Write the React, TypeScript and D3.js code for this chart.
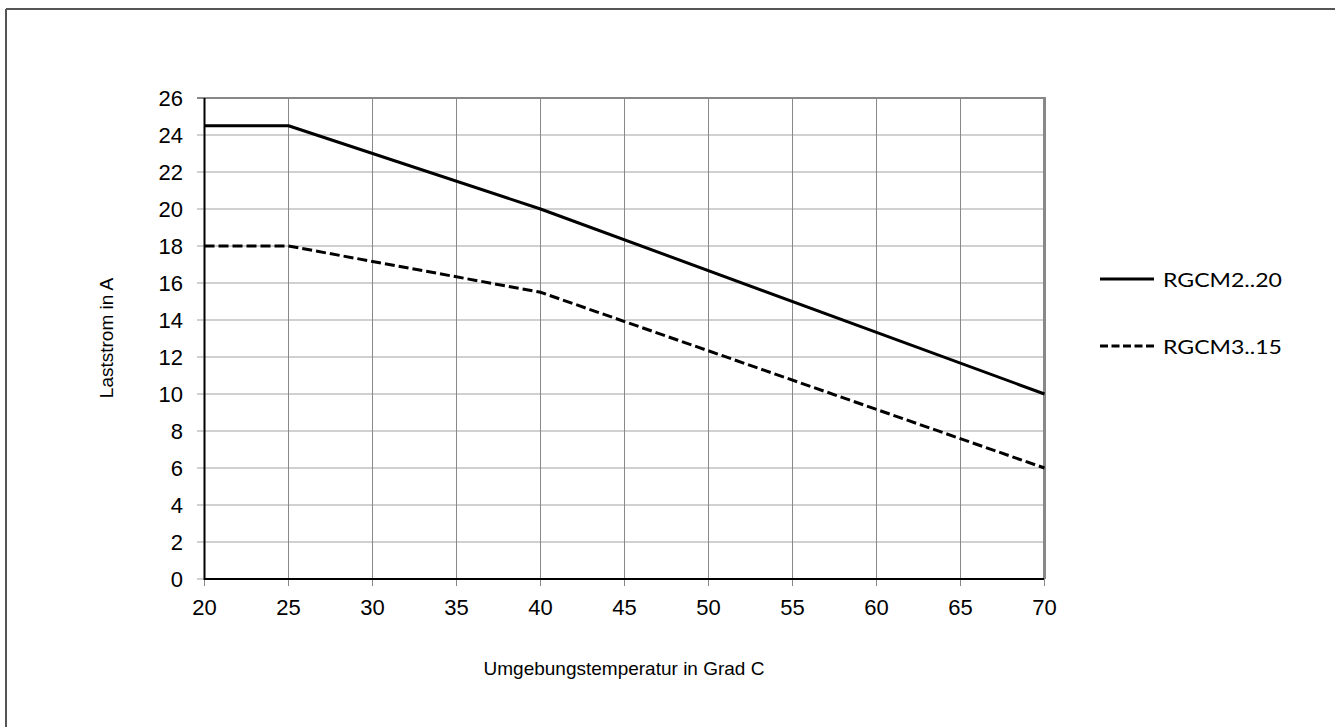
import React from "react";
import * as d3 from "d3";

const temps = [20, 25, 40, 70];
const seriesA = [24.5, 24.5, 20, 10];
const seriesB = [18, 18, 15.5, 6];
const seriesNames = ["RGCM2..20", "RGCM3..15"];
const xTicks = [20, 25, 30, 35, 40, 45, 50, 55, 60, 65, 70];
const yTicks = [0, 2, 4, 6, 8, 10, 12, 14, 16, 18, 20, 22, 24, 26];

export default function App() {
  const W = 1335, H = 727;
  const x = d3.scaleLinear().domain([20, 70]).range([204.5, 1044.5]);
  const y = d3.scaleLinear().domain([0, 26]).range([579, 98]);
  const line = d3.line<number>().x((_, i) => x(temps[i])).y((d) => y(d));
  const font = "'Liberation Sans', Arial, sans-serif";
  const legendFont = "Lato, 'Open Sans', sans-serif";
  return (
    <svg width={W} height={H} style={{ position: "absolute", left: 0, top: 0 }}>
      <rect width={W} height={H} fill="#fff" />
      <line x1={6} y1={9} x2={6} y2={H} stroke="#555" strokeWidth={2} />
      <line x1={6} y1={9} x2={W} y2={9} stroke="#555" strokeWidth={2} />
      {yTicks.map((t) => (
        <line key={"h" + t} x1={197} x2={1044} y1={y(t)} y2={y(t)} stroke={t === 26 ? "#888" : "#c0c0c0"} strokeWidth={t === 26 ? 2 : 1.5} />
      ))}
      {xTicks.map((t) => (
        <line key={"v" + t} x1={x(t)} x2={x(t)} y1={98} y2={586} stroke="#888" strokeWidth={1} />
      ))}
      <line x1={x(70)} x2={x(70)} y1={97} y2={579} stroke="#888" strokeWidth={3} />
      <line x1={x(20)} x2={x(20)} y1={98} y2={580} stroke="#000" strokeWidth={2} />
      <line x1={204} x2={1044} y1={579} y2={579} stroke="#000" strokeWidth={2} />
      {yTicks.map((t) => (
        <text key={"yl" + t} x={183} y={y(t) + 8} textAnchor="end" fontFamily={font} fontSize={22} fill="#000">{t}</text>
      ))}
      {xTicks.map((t) => (
        <text key={"xl" + t} x={x(t)} y={615} textAnchor="middle" fontFamily={font} fontSize={22} fill="#000">{t}</text>
      ))}
      <text transform={`translate(113,338) rotate(-90)`} textAnchor="middle" fontFamily={font} fontSize={19} fill="#000">Laststrom in A</text>
      <text x={624} y={675} textAnchor="middle" fontFamily={font} fontSize={19} fill="#000">Umgebungstemperatur in Grad C</text>
      <path d={line(seriesA) || ""} fill="none" stroke="#000" strokeWidth={3} strokeLinejoin="round" />
      <path d={line(seriesB) || ""} fill="none" stroke="#000" strokeWidth={3} strokeDasharray="10,4" />
      <line x1={1100} x2={1154} y1={279} y2={279} stroke="#000" strokeWidth={3} />
      <line x1={1100} x2={1154} y1={346} y2={346} stroke="#000" strokeWidth={3} strokeDasharray="8,3.5" />
      <text x={1163} y={287} fontFamily={legendFont} fontSize={20} textLength={119} lengthAdjust="spacingAndGlyphs" fill="#000">{seriesNames[0]}</text>
      <text x={1163} y={353.5} fontFamily={legendFont} fontSize={20} textLength={119} lengthAdjust="spacingAndGlyphs" fill="#000">{seriesNames[1]}</text>
    </svg>
  );
}
